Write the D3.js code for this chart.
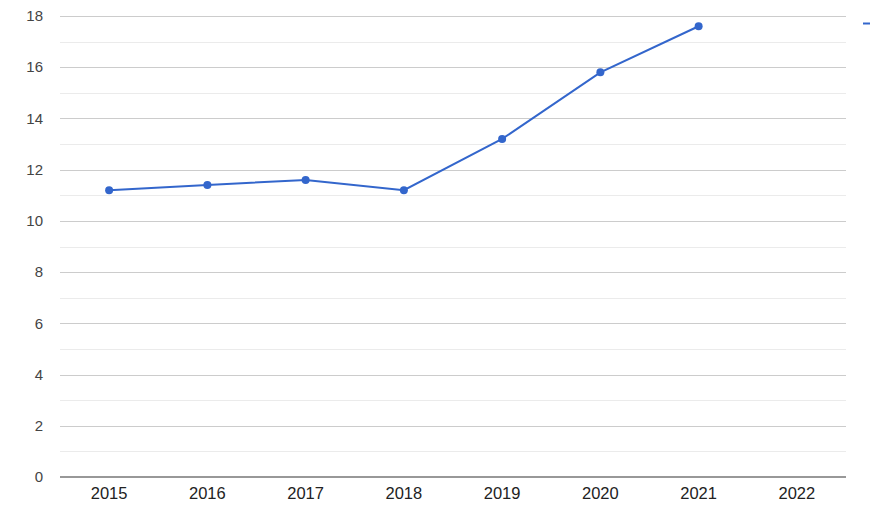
<!DOCTYPE html>
<html><head><meta charset="utf-8">
<script src="https://d3js.org/d3.v7.min.js"></script>
<style>body{margin:0;background:#fff}svg{display:block}</style>
</head><body>
<script>
const categories = ["2015","2016","2017","2018","2019","2020","2021","2022"];
const values = [11.2, 11.4, 11.6, 11.2, 13.2, 15.8, 17.6, null];
const yTicks = [0,2,4,6,8,10,12,14,16,18];
const yMinor = [1,3,5,7,9,11,13,15,17];

const W = 870, H = 512;
const m = {left: 60, right: 24, top: 16, bottom: 35};
const svg = d3.select("body").append("svg").attr("width", W).attr("height", H);
const x = d3.scaleBand().domain(categories).range([m.left, W - m.right]);
const y = d3.scaleLinear().domain([0, 18]).range([H - m.bottom, m.top]);
const font = "Arial, 'Liberation Sans', sans-serif";

svg.append("g").selectAll("line").data(yMinor).join("line")
  .attr("x1", m.left).attr("x2", W - m.right)
  .attr("y1", d => Math.round(y(d)) + 0.5).attr("y2", d => Math.round(y(d)) + 0.5)
  .attr("stroke", "#ebebeb").attr("stroke-width", 1);
svg.append("g").selectAll("line").data(yTicks.filter(d => d > 0)).join("line")
  .attr("x1", m.left).attr("x2", W - m.right)
  .attr("y1", d => Math.round(y(d)) + 0.5).attr("y2", d => Math.round(y(d)) + 0.5)
  .attr("stroke", "#cccccc").attr("stroke-width", 1);
svg.append("line").attr("x1", m.left).attr("x2", W - m.right)
  .attr("y1", y(0)).attr("y2", y(0)).attr("stroke", "#333").attr("stroke-width", 1.2);

svg.append("g").selectAll("text").data(yTicks).join("text")
  .attr("x", 43).attr("y", d => y(d)).attr("dy", "0.35em")
  .attr("text-anchor", "end").attr("font-family", font).attr("font-size", 15)
  .attr("fill", "#444").text(d => d);

svg.append("g").selectAll("text").data(categories).join("text")
  .attr("x", d => x(d) + x.bandwidth() / 2).attr("y", 493).attr("dy", "0.35em")
  .attr("text-anchor", "middle").attr("font-family", font).attr("font-size", 16.5)
  .attr("fill", "#222").text(d => d);

const pts = categories.map((c, i) => ({c, v: values[i]})).filter(d => d.v != null);
const line = d3.line().x(d => x(d.c) + x.bandwidth() / 2).y(d => y(d.v));
svg.append("path").datum(pts).attr("d", line).attr("fill", "none")
  .attr("stroke", "#3366cc").attr("stroke-width", 2);
svg.append("g").selectAll("circle").data(pts).join("circle")
  .attr("cx", d => x(d.c) + x.bandwidth() / 2).attr("cy", d => y(d.v)).attr("r", 4)
  .attr("fill", "#3366cc");

svg.append("line").attr("x1", 863).attr("x2", 870).attr("y1", 23.5).attr("y2", 23.5)
  .attr("stroke", "#3366cc").attr("stroke-width", 2);
</script>
</body></html>
